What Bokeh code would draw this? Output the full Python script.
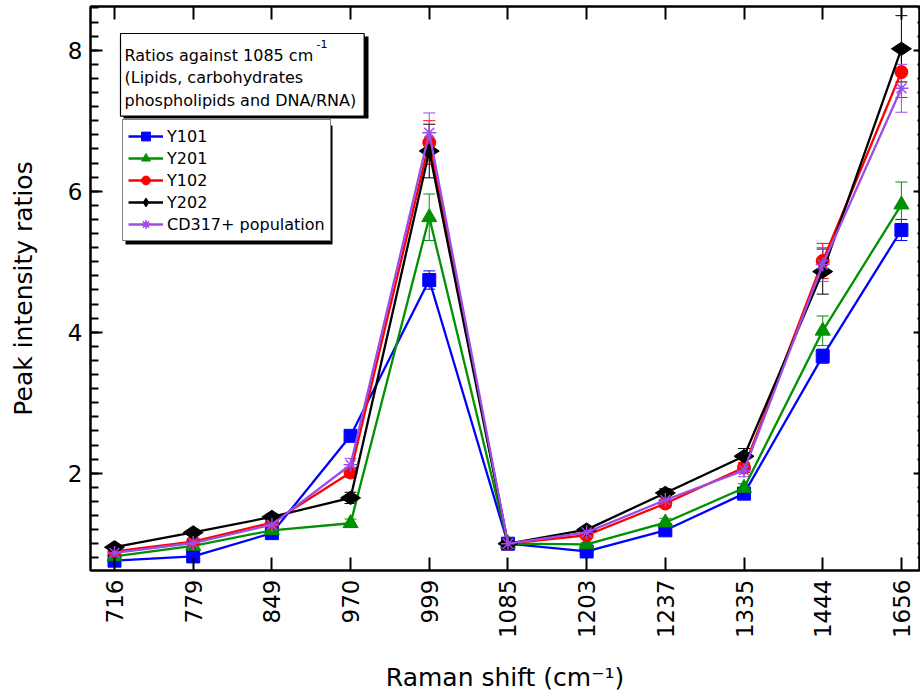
import math
from bokeh.plotting import figure
from bokeh.models import (ColumnDataSource, Range1d, FixedTicker, SingleIntervalTicker,
                          LinearAxis, Whisker, TeeHead, Legend, LegendItem, Label,
                          BoxAnnotation, CustomLabelingPolicy)
from bokeh.embed import file_html
from bokeh.resources import INLINE

# ---------------- data ----------------
categories = ["716", "779", "849", "970", "999", "1085", "1203", "1237", "1335", "1444", "1656"]

series_names = ["Y101", "Y201", "Y102", "Y202", "CD317+ population"]

y101 = [0.76, 0.82, 1.15, 2.53, 4.74, 1.00, 0.89, 1.19, 1.71, 3.66, 5.45]
y201 = [0.82, 0.97, 1.19, 1.29, 5.63, 1.00, 0.99, 1.30, 1.79, 4.02, 5.81]
y102 = [0.89, 1.03, 1.30, 2.01, 6.69, 1.00, 1.12, 1.57, 2.08, 5.01, 7.69]
y202 = [0.95, 1.16, 1.38, 1.65, 6.57, 1.00, 1.20, 1.72, 2.24, 4.86, 8.02]
cd317 = [0.87, 1.01, 1.27, 2.12, 6.83, 1.00, 1.16, 1.62, 2.04, 4.96, 7.46]

e101 = [0.03, 0.03, 0.04, 0.07, 0.13, 0.00, 0.03, 0.04, 0.05, 0.10, 0.15]
e201 = [0.03, 0.03, 0.03, 0.06, 0.33, 0.00, 0.03, 0.06, 0.06, 0.21, 0.32]
e102 = [0.04, 0.04, 0.05, 0.07, 0.31, 0.00, 0.04, 0.06, 0.07, 0.25, 0.36]
e202 = [0.03, 0.04, 0.04, 0.08, 0.38, 0.00, 0.03, 0.06, 0.11, 0.32, 0.47]
ecd317 = [0.03, 0.04, 0.04, 0.09, 0.28, 0.00, 0.04, 0.06, 0.09, 0.24, 0.34]

x_title = "Raman shift (cm\u207b\u00b9)"
y_title = "Peak intensity ratios"
note_text = "Ratios against 1085 cm\n(Lipids, carbohydrates\nphospholipids and DNA/RNA)"

# ---------------- styles ----------------
FONT = "DejaVu Sans"
styles = [
    dict(color="#0000ff", marker="square", size=13, angle=0),
    dict(color="#009100", marker="triangle", size=15, angle=0),
    dict(color="#ff0000", marker="circle", size=13, angle=0),
    dict(color="#000000", marker="diamond", size=20, angle=math.pi / 2),
    dict(color="#9b4de6", marker="asterisk", size=14, angle=0),
]
values = [y101, y201, y102, y202, cd317]
errors = [e101, e201, e102, e202, ecd317]

xs = list(range(len(categories)))

no_labels = CustomLabelingPolicy(code="""
try { const ids = [...indices.ones()]; for (const i of ids) { indices.unset(i) } } catch (e) {}
return indices
""")

p = figure(width=920, height=700, output_backend="svg", toolbar_location=None,
           x_range=Range1d(-0.305, 10.23), y_range=Range1d(0.62, 8.62),
           min_border_left=90, min_border_right=1, min_border_top=6, min_border_bottom=130)
p.xgrid.visible = False
p.ygrid.visible = False
p.outline_line_color = "black"
p.outline_line_width = 2
p.background_fill_color = "white"
p.border_fill_color = "white"

# bottom axis
xa = p.xaxis[0]
xa.ticker = FixedTicker(ticks=xs, minor_ticks=[])
xa.major_label_overrides = {i: c for i, c in enumerate(categories)}
xa.major_label_orientation = math.pi / 2
xa.major_label_text_font = FONT
xa.major_label_text_font_size = "23px"
xa.major_label_text_color = "black"
xa.major_label_standoff = 9
xa.major_tick_in = 13
xa.major_tick_out = 0
xa.minor_tick_in = 0
xa.minor_tick_out = 0
xa.axis_line_width = 2
xa.major_tick_line_width = 2
xa.axis_label = x_title
xa.axis_label_text_font = FONT
xa.axis_label_text_font_size = "25px"
xa.axis_label_text_font_style = "normal"
xa.axis_label_text_color = "black"
xa.axis_label_standoff = 22

# left axis
ya = p.yaxis[0]
ya.ticker = SingleIntervalTicker(interval=2, num_minor_ticks=10)
ya.major_label_text_font = FONT
ya.major_label_text_font_size = "23px"
ya.major_label_text_color = "black"
ya.major_label_standoff = 8
ya.major_tick_in = 12
ya.major_tick_out = 0
ya.minor_tick_in = 8
ya.minor_tick_out = 0
ya.axis_line_width = 2
ya.major_tick_line_width = 2
ya.minor_tick_line_width = 2
ya.axis_label = y_title
ya.axis_label_text_font = FONT
ya.axis_label_text_font_size = "25px"
ya.axis_label_text_font_style = "normal"
ya.axis_label_text_color = "black"
ya.axis_label_standoff = 27

# top axis (ticks only)
top = LinearAxis(ticker=FixedTicker(ticks=xs, minor_ticks=[]),
                 major_label_text_font_size="0px", major_label_standoff=0,
                 major_label_policy=no_labels,
                 major_tick_in=13, major_tick_out=0, minor_tick_in=0, minor_tick_out=0,
                 axis_line_width=2, major_tick_line_width=2)
p.add_layout(top, "above")

# right axis (ticks only)
right = LinearAxis(ticker=SingleIntervalTicker(interval=2, num_minor_ticks=10),
                   major_label_text_font_size="0px", major_label_standoff=0,
                   major_label_policy=no_labels,
                   major_tick_in=6, major_tick_out=0, minor_tick_in=2, minor_tick_out=0,
                   axis_line_width=2, major_tick_line_width=2, minor_tick_line_width=2)
p.add_layout(right, "right")

# shadows for the boxes
p.add_layout(BoxAnnotation(left=33, right=278, bottom=452, top=534,
                           left_units="screen", right_units="screen",
                           top_units="screen", bottom_units="screen",
                           fill_color="black", fill_alpha=1, line_color=None, level="annotation"))
p.add_layout(BoxAnnotation(left=35, right=242, bottom=326, top=445,
                           left_units="screen", right_units="screen",
                           top_units="screen", bottom_units="screen",
                           fill_color="black", fill_alpha=1, line_color=None, level="annotation"))

items = []
for name, vals, errs, st in zip(series_names, values, errors, styles):
    src = ColumnDataSource(dict(
        x=xs, y=vals,
        upper=[v + e for v, e in zip(vals, errs)],
        lower=[v - e for v, e in zip(vals, errs)],
    ))
    w = Whisker(base="x", upper="upper", lower="lower", source=src,
                line_color=st["color"], line_width=1,
                upper_head=TeeHead(size=12, line_color=st["color"], line_width=1),
                lower_head=TeeHead(size=12, line_color=st["color"], line_width=1))
    p.add_layout(w)
    lr = p.line("x", "y", source=src, line_color=st["color"], line_width=2.3)
    if st["marker"] == "asterisk":
        sr = p.scatter("x", "y", source=src, marker="asterisk", size=st["size"],
                       line_color=st["color"], line_width=1.5)
    else:
        sr = p.scatter("x", "y", source=src, marker=st["marker"], size=st["size"],
                       angle=st["angle"], fill_color=st["color"], line_color=st["color"])
    items.append(LegendItem(label=name, renderers=[lr, sr]))

legend = Legend(items=items, location=(32, 329), margin=0, padding=5, spacing=0,
                glyph_width=35, glyph_height=22, label_height=22, label_standoff=4,
                label_text_font=FONT, label_text_font_size="16px", label_text_color="black",
                border_line_color="black", border_line_width=1.5,
                background_fill_color="white", background_fill_alpha=1)
p.add_layout(legend)

note = Label(x=30, y=537, x_units="screen", y_units="screen", text=note_text,
             text_font=FONT, text_font_size="16px", text_color="black", text_align="left",
             text_baseline="top", text_line_height=1.2,
             background_fill_color="white", background_fill_alpha=1,
             border_line_color="black", border_line_width=1.2,
             padding=dict(top=12, right=8, bottom=6, left=4))
p.add_layout(note)
sup = Label(x=226, y=531, x_units="screen", y_units="screen", text="-1",
            text_font=FONT, text_font_size="11px", text_color="black", text_align="left",
            text_baseline="top")
p.add_layout(sup)

open("out.html", "w").write(file_html(p, INLINE))
